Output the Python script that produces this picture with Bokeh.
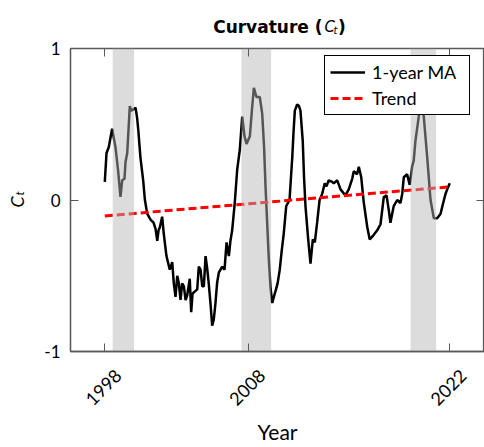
import math

from bokeh.embed import file_html
from bokeh.models import (CustomJSTickFormatter, FixedTicker, Label, LinearAxis,
                          Range1d)
from bokeh.plotting import figure
from bokeh.resources import INLINE

# Curvature factor, 1-year moving average
ma_year = [
    1998.00, 1998.12, 1998.28, 1998.51, 1998.74, 1998.92, 1999.09, 1999.21, 1999.37, 1999.44,
    1999.56, 1999.74, 1999.84, 2000.02, 2000.14, 2000.25, 2000.34, 2000.48, 2000.67, 2000.79,
    2000.95, 2001.18, 2001.39, 2001.53, 2001.65, 2001.74, 2001.83, 2001.99, 2002.10, 2002.29,
    2002.52, 2002.69, 2002.80, 2002.92, 2003.04, 2003.15, 2003.27, 2003.38, 2003.50, 2003.62,
    2003.73, 2003.91, 2004.01, 2004.10, 2004.19, 2004.43, 2004.54, 2004.66, 2004.78, 2004.89,
    2005.01, 2005.12, 2005.23, 2005.35, 2005.47, 2005.58, 2005.70, 2005.81, 2005.93, 2006.17,
    2006.33, 2006.47, 2006.63, 2006.74, 2006.86, 2007.04, 2007.21, 2007.39, 2007.56, 2007.72,
    2007.86, 2008.09, 2008.24, 2008.37, 2008.55, 2008.78, 2008.95, 2009.08, 2009.18, 2009.41,
    2009.53, 2009.65, 2009.76, 2009.88, 2010.02, 2010.17, 2010.29, 2010.45, 2010.62, 2010.85,
    2011.04, 2011.13, 2011.22, 2011.38, 2011.51, 2011.61, 2011.77, 2011.86, 2011.96, 2012.15,
    2012.31, 2012.47, 2012.61, 2012.77, 2012.94, 2013.12, 2013.30, 2013.42, 2013.58, 2013.82,
    2013.93, 2014.17, 2014.40, 2014.74, 2014.97, 2015.21, 2015.32, 2015.55, 2015.67, 2015.84,
    2016.02, 2016.26, 2016.43, 2016.71, 2016.95, 2017.18, 2017.41, 2017.60, 2017.76, 2017.87,
    2018.10, 2018.34, 2018.57, 2018.69, 2018.80, 2019.03, 2019.21, 2019.38, 2019.49, 2019.61,
    2019.84, 2019.99, 2020.19, 2020.43, 2020.66, 2020.89, 2021.12, 2021.36, 2021.54, 2021.70,
    2021.86, 2022.00,
]
ma_value = [
    0.12, 0.31, 0.35, 0.47, 0.35, 0.20, 0.02, 0.13, 0.14, 0.25,
    0.31, 0.62, 0.59, 0.60, 0.61, 0.54, 0.45, 0.28, 0.13, 0.00,
    -0.09, -0.13, -0.15, -0.19, -0.27, -0.20, -0.18, -0.11, -0.22, -0.37,
    -0.46, -0.41, -0.55, -0.64, -0.50, -0.55, -0.66, -0.55, -0.57, -0.66,
    -0.63, -0.52, -0.74, -0.62, -0.61, -0.59, -0.44, -0.46, -0.57, -0.57,
    -0.37, -0.45, -0.55, -0.68, -0.83, -0.79, -0.68, -0.55, -0.48, -0.44,
    -0.46, -0.28, -0.37, -0.27, -0.20, -0.02, 0.20, 0.33, 0.55, 0.42,
    0.37, 0.42, 0.60, 0.74, 0.68, 0.68, 0.57, 0.35, 0.09, -0.39,
    -0.58, -0.68, -0.64, -0.60, -0.55, -0.46, -0.35, -0.22, -0.04, 0.00,
    0.28, 0.45, 0.59, 0.63, 0.62, 0.59, 0.39, 0.15, -0.04, -0.26,
    -0.42, -0.26, -0.28, -0.15, 0.00, 0.04, 0.11, 0.09, 0.13, 0.12,
    0.11, 0.13, 0.07, 0.03, 0.07, 0.14, 0.19, 0.17, 0.22, 0.15,
    -0.02, -0.18, -0.26, -0.23, -0.20, -0.16, 0.02, 0.03, -0.07, -0.15,
    -0.04, 0.00, -0.02, 0.04, 0.15, 0.17, 0.10, 0.22, 0.26, 0.39,
    0.55, 0.68, 0.55, 0.28, 0.00, -0.12, -0.12, -0.09, -0.02, 0.04,
    0.08, 0.11,
]

# Linear trend, end points
trend_year = [1998.0, 2022.0]
trend_value = [-0.105, 0.087]

# Shaded recession periods
band_start = [1998.55, 2007.51, 2019.27]
band_end = [2000.04, 2009.57, 2021.05]

year_ticks = [1998, 2008, 2022]
year_tick_labels = ["1998", "2008", "2022"]
value_ticks = [-1, 0, 1]
value_tick_labels = ["-1", "0", "1"]

# Canvas and frame geometry
W, H = 484, 447
LEFT, RIGHT, TOP, BOTTOM = 70, 0, 48, 94
FW = W - LEFT - RIGHT
FH = H - TOP - BOTTOM
X0, X1 = 1995.614, 2024.414
Y0, Y1 = -1.0, 1.0
PX_PER_YEAR = FW / (X1 - X0)

AXIS_COLOR = "#5a5a5a"
FONT = "Lato"
TITLE_FONT = "DejaVu Sans"


def data_x(px):
    return X0 + (px - LEFT) / PX_PER_YEAR


def data_y(py):
    return Y1 - (py - TOP) * (Y1 - Y0) / FH


p = figure(
    width=W, height=H,
    x_range=Range1d(X0, X1), y_range=Range1d(Y0, Y1),
    output_backend="svg", toolbar_location=None,
    min_border_left=LEFT, min_border_right=RIGHT,
    min_border_top=TOP, min_border_bottom=BOTTOM,
)
p.background_fill_color = "white"
p.border_fill_color = "white"
p.outline_line_color = AXIS_COLOR
p.outline_line_width = 1.3
p.xgrid.visible = False
p.ygrid.visible = False

p.line(ma_year, ma_value, color="black", line_width=2.5, legend_label="1-year MA")
p.line(trend_year, trend_value, color="#ff0000", line_width=3, line_dash="8 4",
       legend_label="Trend")
p.quad(left=band_start, right=band_end, bottom=Y0, top=Y1,
       fill_color="#b5b5b5", fill_alpha=0.47, line_color=None)

blank = CustomJSTickFormatter(code="return ''")

# Bottom axis: tick marks only
xa = p.xaxis[0]
xa.ticker = FixedTicker(ticks=year_ticks)
xa.formatter = blank
xa.axis_line_color = AXIS_COLOR
xa.axis_line_width = 1.3
xa.major_tick_in = 8
xa.major_tick_out = 0
xa.major_tick_line_color = AXIS_COLOR
xa.minor_tick_line_color = None
xa.major_label_text_color = None
xa.major_label_standoff = 0

# Year labels, rotated; drawn on a second axis whose range is nudged so the
# rotated text sits to the right of each tick, as in a centred rotation
LABEL_NUDGE = 13.5 / PX_PER_YEAR
p.extra_x_ranges = {"year_labels": Range1d(X0 - LABEL_NUDGE, X1 - LABEL_NUDGE)}
xl = LinearAxis(
    x_range_name="year_labels",
    ticker=FixedTicker(ticks=year_ticks),
    major_label_overrides=dict(zip(year_ticks, year_tick_labels)),
    major_label_orientation=math.pi / 4,
    major_label_text_font=FONT,
    major_label_text_font_size="18px",
    major_label_text_color="black",
    major_label_standoff=21,
    axis_line_color=None,
    major_tick_line_color=None,
    minor_tick_line_color=None,
    major_tick_in=0, major_tick_out=0,
    axis_label="Year",
    axis_label_text_font=FONT,
    axis_label_text_font_size="21px",
    axis_label_text_font_style="normal",
    axis_label_text_color="black",
    axis_label_standoff=5,
)
p.add_layout(xl, "below")

ya = p.yaxis[0]
ya.ticker = FixedTicker(ticks=value_ticks)
ya.major_label_overrides = dict(zip(value_ticks, value_tick_labels))
ya.axis_line_color = AXIS_COLOR
ya.axis_line_width = 1.3
ya.major_tick_in = 8
ya.major_tick_out = 0
ya.major_tick_line_color = AXIS_COLOR
ya.minor_tick_line_color = None
ya.major_label_text_font = FONT
ya.major_label_text_font_size = "17px"
ya.major_label_text_color = "black"
ya.major_label_standoff = 10

# Mirror tick marks on the top and right sides
for side, ticks in (("above", year_ticks), ("right", value_ticks)):
    ax = LinearAxis(
        ticker=FixedTicker(ticks=ticks),
        formatter=blank,
        axis_line_color=None,
        major_tick_in=8, major_tick_out=0,
        major_tick_line_color=AXIS_COLOR,
        minor_tick_line_color=None,
        major_label_text_color=None,
        major_label_standoff=0,
    )
    p.add_layout(ax, side)


def text_label(side, px, py, text, size, style="normal", font=FONT,
               angle=0.0, align="left"):
    # Text placed at canvas pixel (px, py) through the plot's own scales; the
    # side panel only reserves room for it outside the frame.
    lbl = Label(x=data_x(px), y=data_y(py), text=text, angle=angle,
                text_align=align, text_baseline="alphabetic",
                text_font=font, text_font_style=style, text_font_size=size,
                text_color="black")
    p.add_layout(lbl, side)


# Y-axis label C_t (rotated pieces take little height in the top panel)
text_label("above", 16, 208, "C", "18px", "italic", angle=math.pi / 2)
text_label("above", 19, 196, "t", "12px", "italic", angle=math.pi / 2)

# Title: Curvature (C_t)
text_label("above", 322, 26.5, "Curvature (", "17px", "bold", TITLE_FONT, align="right")
text_label("left", 324, 26.5, "C", "15px", "italic", TITLE_FONT)
text_label("left", 333, 29.5, "t", "10px", "italic", TITLE_FONT)
text_label("left", 337.5, 26.5, ")", "17px", "bold", TITLE_FONT)

leg = p.legend[0]
leg.location = (254, 236)
leg.background_fill_color = "white"
leg.background_fill_alpha = 1.0
leg.border_line_color = "black"
leg.border_line_width = 1
leg.border_line_alpha = 1.0
leg.label_text_font = FONT
leg.label_text_font_size = "18px"
leg.label_text_color = "black"
leg.glyph_width = 35
leg.glyph_height = 20
leg.label_height = 20
leg.label_width = 92
leg.label_standoff = 7
leg.padding = 5
leg.spacing = 4
leg.margin = 0

open("out.html", "w").write(file_html(p, INLINE))
